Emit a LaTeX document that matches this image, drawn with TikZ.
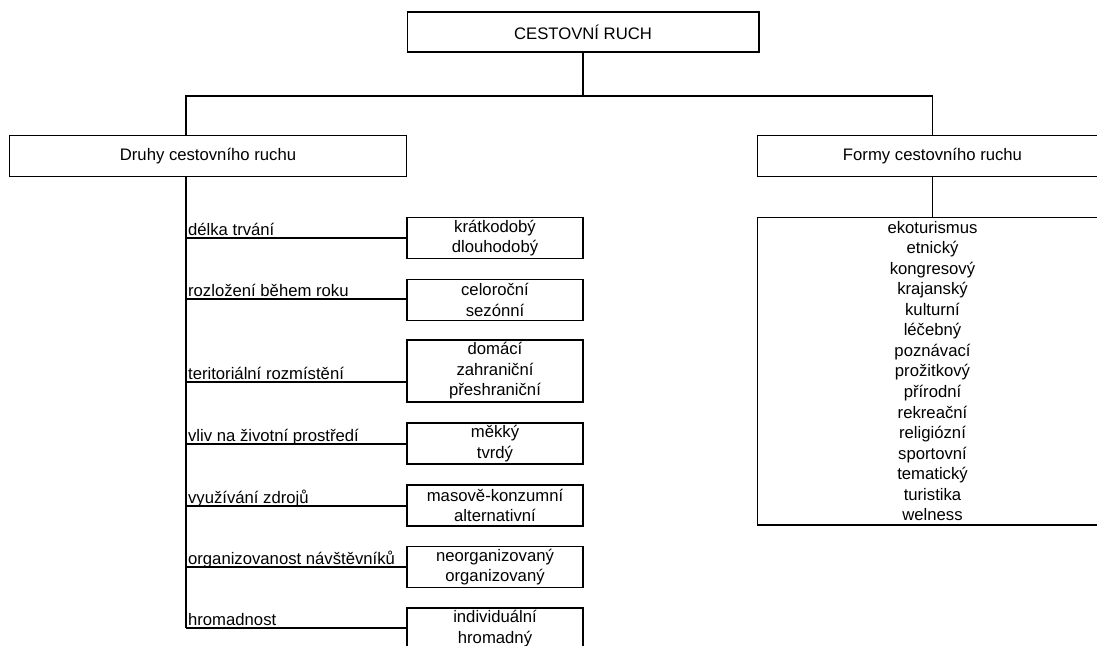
\documentclass[tikz,border=0pt]{standalone}
\usepackage{fontspec}
\setmainfont{Liberation Sans}
\tikzset{
  box/.style={draw, line width=0.6pt, align=center, inner xsep=2pt, inner ysep=1pt, font=\fontsize{9.5}{11.7}\selectfont},
  headbox/.style={box, minimum height=0.83cm},
  kindbox/.style={box, minimum width=3.52cm, minimum height=0.82cm},
  crit/.style={anchor=south west, inner xsep=1pt, inner ysep=1.5pt, text depth=0pt, font=\fontsize{9.5}{11.7}\selectfont},
  link/.style={line width=0.6pt}
}

\begin{document}
\begin{tikzpicture}[x=0.02cm, y=-0.02cm]
  \useasboundingbox (0,0) rectangle (1097,645);
  \clip (0,0) rectangle (1097,645);

  % Main boxes
  \node[headbox, minimum width=7.04cm, minimum height=0.8cm] (ruch) at (583,32) {CESTOVNÍ RUCH};
  \node[headbox, minimum width=7.96cm] (druhy) at (208,156) {Druhy cestovního ruchu};
  \node[headbox, minimum width=7.02cm] (formy) at (932.5,156) {Formy cestovního ruchu};
  \node[box, minimum width=7.02cm, minimum height=6.16cm, inner ysep=0pt] (formlist) at (932.5,371)
    {ekoturismus\\etnický\\kongresový\\krajanský\\kulturní\\léčebný\\poznávací\\prožitkový\\přírodní\\rekreační\\religiózní\\sportovní\\tematický\\turistika\\welness};

  % Top connectors
  \coordinate (bus) at (0,96);
  \coordinate (trunk) at (186,0);
  \draw[link] (ruch) -- (ruch |- bus);
  \draw[link] (druhy.north -| trunk) -- (trunk |- bus) -- (formy |- bus) -- (formy);
  \draw[link] (formy) -- (formlist);

  % Criteria
  \node[crit] (delka) at (186,238) {délka trvání};
  \node[kindbox] (delkak) at (495,238) {krátkodobý\\dlouhodobý};
  \node[crit] (rozl) at (186,299) {rozložení během roku};
  \node[kindbox] (rozlk) at (495,300) {celoroční\\sezónní};
  \node[crit] (teri) at (186,382) {teritoriální rozmístění};
  \node[kindbox, minimum height=1.24cm] (terik) at (495,371) {domácí\\zahraniční\\přeshraniční};
  \node[crit] (vliv) at (186,444) {vliv na životní prostředí};
  \node[kindbox] (vlivk) at (495,443.5) {měkký\\tvrdý};
  \node[crit] (zdroj) at (186,506) {využívání zdrojů};
  \node[kindbox] (zdrojk) at (495,505.5) {masově-konzumní\\alternativní};
  \node[crit] (org) at (186,567) {organizovanost návštěvníků};
  \node[kindbox] (orgk) at (495,567) {neorganizovaný\\organizovaný};
  \node[crit] (hrom) at (186,628) {hromadnost};
  \node[kindbox] (hromk) at (495,628.5) {individuální\\hromadný};

  % Trunk and branches
  \draw[link] (druhy.south -| trunk) -- (hrom.south west);
  \draw[link] (delka.south west) -- (delka.south west -| delkak.west);
  \draw[link] (rozl.south west) -- (rozl.south west -| rozlk.west);
  \draw[link] (teri.south west) -- (teri.south west -| terik.west);
  \draw[link] (vliv.south west) -- (vliv.south west -| vlivk.west);
  \draw[link] (zdroj.south west) -- (zdroj.south west -| zdrojk.west);
  \draw[link] (org.south west) -- (org.south west -| orgk.west);
  \draw[link] (hrom.south west) -- (hrom.south west -| hromk.west);
\end{tikzpicture}
\end{document}
